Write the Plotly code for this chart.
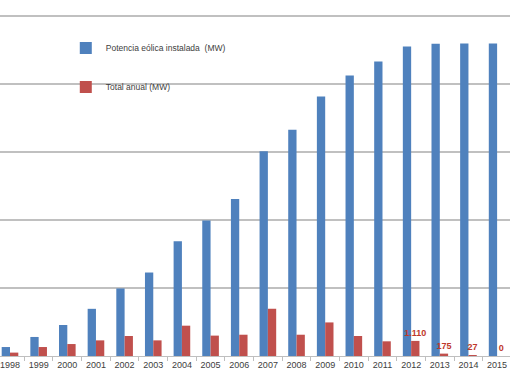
import plotly.graph_objects as go

years = [str(y) for y in range(1998, 2016)]
potencia = [660, 1400, 2280, 3470, 4970, 6140, 8440, 9960, 11550, 15050,
            16640, 19080, 20630, 21660, 22760, 22960, 22985, 22985]
anual = [250, 660, 880, 1150, 1470, 1150, 2230, 1500, 1565, 3475,
         1565, 2470, 1470, 1080, 1110, 175, 27, 0]
anual_labels = ["", "", "", "", "", "", "", "", "", "",
                "", "", "", "", "1.110", "175", "27", "0"]

fig = go.Figure()
fig.add_trace(go.Bar(
    x=years, y=potencia, name="Potencia eólica instalada  (MW)",
    marker=dict(color="#4F81BD", line=dict(width=0)),
    legendgroup="a",
))
fig.add_trace(go.Bar(
    x=years, y=anual, name="Total anual (MW)",
    marker=dict(color="#C0504D", line=dict(width=0)),
    text=anual_labels, textposition="outside", cliponaxis=False,
    constraintext="none", textangle=0,
    textfont=dict(family="Liberation Sans", size=9, color="#C0392B", weight="bold"),
    legendgroup="b",
))

fig.update_layout(
    width=510, height=382,
    margin=dict(l=0, r=0, t=15, b=26, autoexpand=False),
    paper_bgcolor="white", plot_bgcolor="white",
    barmode="group", bargap=0.42, bargroupgap=0,
    font=dict(family="Liberation Sans", size=9, color="#404040"),
    showlegend=True,
    legend=dict(
        x=0.129, y=0.946, xanchor="left", yanchor="top",
        bgcolor="rgba(0,0,0,0)", font=dict(size=8.5, color="#404040"),
        traceorder="grouped", tracegroupgap=20, itemwidth=30,
    ),
    xaxis=dict(
        type="category", range=[-0.349, 17.45], automargin=False,
        showline=True, linecolor="#BFBFBF", linewidth=1,
        ticks="outside", tickson="boundaries", ticklen=4, tickcolor="#BFBFBF",
        showgrid=False, tickangle=0, tickfont=dict(size=9, color="#404040"),
    ),
    yaxis=dict(
        range=[0, 25080], dtick=5000, showticklabels=False, automargin=False,
        showgrid=True, gridcolor="#C0C0C0", gridwidth=1.5,
        zeroline=False, showline=False,
    ),
)

fig.write_html("out.html", config={"displayModeBar": False},
               post_script="document.body.style.margin='0';")
